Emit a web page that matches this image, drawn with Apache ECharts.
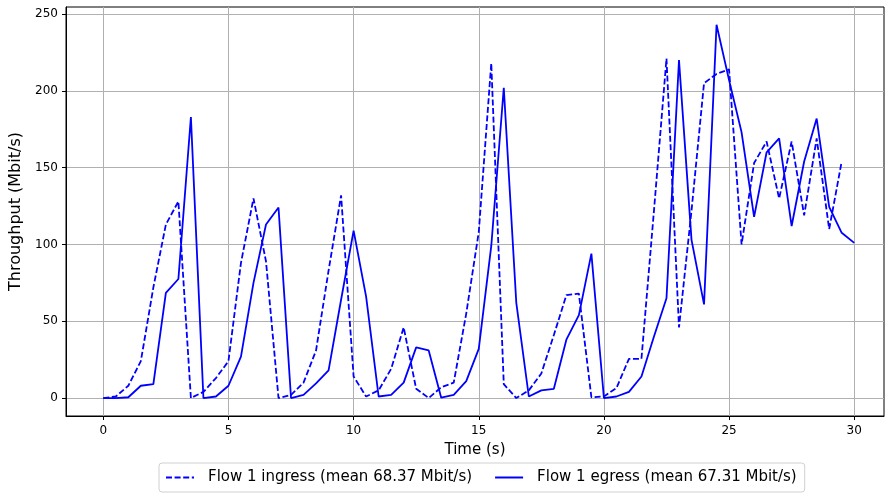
<!DOCTYPE html>
<html>
<head>
<meta charset="utf-8">
<script src="https://cdn.jsdelivr.net/npm/echarts@6/dist/echarts.min.js"></script>
<style>
html,body{margin:0;padding:0;background:#fff;}
#chart{width:886px;height:496px;}
</style>
</head>
<body>
<div id="chart"></div>
<script>
const ingressTime = [0,0.5,1,1.5,2,2.5,3,3.5,4,4.5,5,5.5,6,6.5,7,7.5,8,8.5,9,9.5,10,10.5,11,11.5,12,12.5,13,13.5,14,14.5,15,15.5,16,16.5,17,17.5,18,18.5,19,19.5,20,20.5,21,21.5,22,22.5,23,23.5,24,24.5,25,25.5,26,26.5,27,27.5,28,28.5,29,29.5];
const ingressValues = [0,1,8,24,72,113,128,0,4,13,24,88,130,89,0,2,10,31,83,132,14,1,5,19,46,6,0,7,10,55,108,218,9,0,5,16,41,67,68,0.5,1,6.5,25.5,25.5,122,221,46,122,205,211,214,100,153,167,130,167,119,169,110,154];
const egressTime = [0,0.5,1,1.5,2,2.5,3,3.5,4,4.5,5,5.5,6,6.5,7,7.5,8,8.5,9,9.5,10,10.5,11,11.5,12,12.5,13,13.5,14,14.5,15,15.5,16,16.5,17,17.5,18,18.5,19,19.5,20,20.5,21,21.5,22,22.5,23,23.5,24,24.5,25,25.5,26,26.5,27,27.5,28,28.5,29,29.5,30];
const egressValues = [0,0,0.5,8,9,68.5,77.5,183,0,1,8,27,75,113,124,0,2,9.5,18,64,109,66,1,2,10,33,31,0.2,2,11,32,99,202,62,1,5,6,38,54,94,0,1,4,14,40,65,220,103,61,243,207,173,118,160,169,112,154,182,124.5,107.6,101];
const xTicks = [0,5,10,15,20,25,30];
const yTicks = [0,50,100,150,200,250];
const ingressName = 'Flow 1 ingress (mean 68.37 Mbit/s)';
const egressName = 'Flow 1 egress (mean 67.31 Mbit/s)';

const pair = (t, v) => t.map((x, i) => [x, v[i]]);
const FONT = 'DejaVu Sans';

const chart = echarts.init(document.getElementById('chart'), null, {renderer: 'canvas'});
chart.setOption({
  animation: false,
  backgroundColor: '#fff',
  grid: {left: 66, right: 2, top: 7, bottom: 80, show: true, borderColor: '#000', borderWidth: 1, backgroundColor: 'transparent'},
  xAxis: {
    type: 'value', min: -1.49, max: 31.19,
    name: 'Time (s)', nameLocation: 'middle', nameGap: 27,
    nameTextStyle: {fontFamily: FONT, fontSize: 15, color: '#000'},
    axisLine: {show: true, onZero: false, lineStyle: {color: '#000', width: 1}},
    axisTick: {show: true, length: 4, inside: false, customValues: xTicks, lineStyle: {color: '#000'}},
    axisLabel: {customValues: xTicks, fontFamily: FONT, fontSize: 12, color: '#000', margin: 9},
    splitLine: {show: true, lineStyle: {color: '#b0b0b0', width: 1}}
  },
  yAxis: {
    type: 'value', min: -11.7, max: 254.6,
    name: 'Throughput (Mbit/s)', nameLocation: 'middle', nameGap: 38,
    nameTextStyle: {fontFamily: FONT, fontSize: 16, color: '#000'},
    axisLine: {show: true, onZero: false, lineStyle: {color: '#000', width: 1}},
    axisTick: {show: true, length: 4, customValues: yTicks, lineStyle: {color: '#000'}},
    axisLabel: {customValues: yTicks, fontFamily: FONT, fontSize: 12, color: '#000', margin: 8},
    splitLine: {show: true, lineStyle: {color: '#b0b0b0', width: 1}}
  },
  legend: {
    left: 159, top: 463,
    data: [ingressName, egressName],
    itemWidth: 28, itemHeight: 12, itemGap: 22,
    padding: [7, 8, 7, 6],
    borderColor: '#d0d0d0', borderWidth: 1, borderRadius: 3,
    itemStyle: {opacity: 0},
    textStyle: {fontFamily: FONT, fontSize: 15, color: '#000', padding: [0, 0, 0, 9]}
  },
  series: [
    {
      name: ingressName, type: 'line', data: pair(ingressTime, ingressValues),
      symbol: 'none', color: '#0000ff',
      lineStyle: {color: '#0000ff', width: 1.8, type: [6, 2.6]}
    },
    {
      name: egressName, type: 'line', data: pair(egressTime, egressValues),
      symbol: 'none', color: '#0000ff',
      lineStyle: {color: '#0000ff', width: 1.8}
    }
  ]
});
</script>
</body>
</html>
